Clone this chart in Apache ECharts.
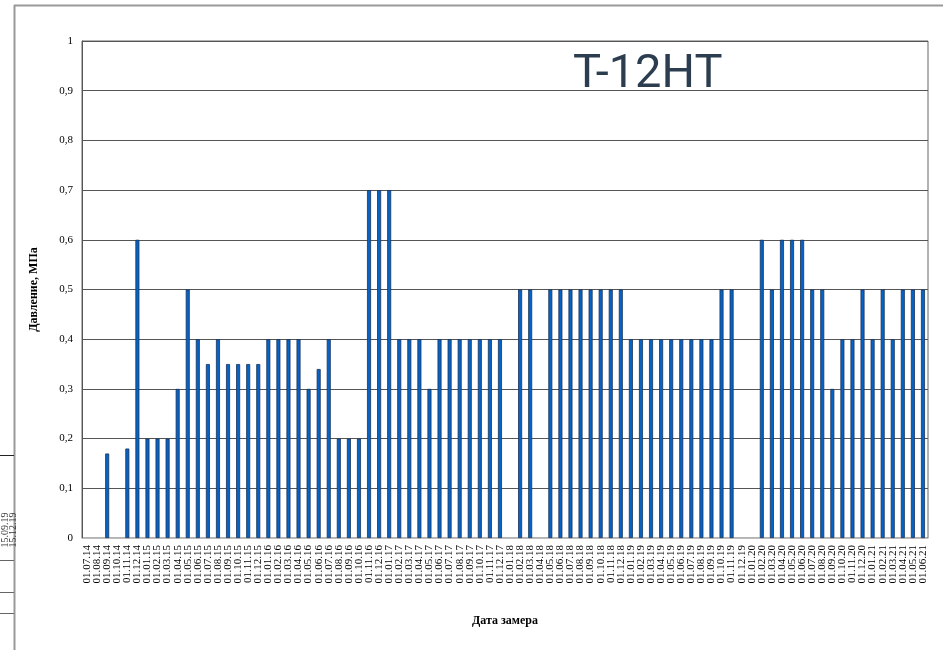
<!DOCTYPE html>
<html>
<head>
<meta charset="utf-8">
<title>T-12HT</title>
<script src="https://cdn.jsdelivr.net/npm/echarts@6/dist/echarts.min.js"></script>
<style>
  html, body { margin: 0; padding: 0; background: #fff; }
  #chart { width: 943px; height: 650px; }
</style>
</head>
<body>
<div id="chart"></div>
<script>
// даты замеров (ежемесячно, 07.2014 - 06.2021)
const dates = [
  '01.07.14','01.08.14','01.09.14','01.10.14','01.11.14','01.12.14',
  '01.01.15','01.02.15','01.03.15','01.04.15','01.05.15','01.06.15','01.07.15','01.08.15','01.09.15','01.10.15','01.11.15','01.12.15',
  '01.01.16','01.02.16','01.03.16','01.04.16','01.05.16','01.06.16','01.07.16','01.08.16','01.09.16','01.10.16','01.11.16','01.12.16',
  '01.01.17','01.02.17','01.03.17','01.04.17','01.05.17','01.06.17','01.07.17','01.08.17','01.09.17','01.10.17','01.11.17','01.12.17',
  '01.01.18','01.02.18','01.03.18','01.04.18','01.05.18','01.06.18','01.07.18','01.08.18','01.09.18','01.10.18','01.11.18','01.12.18',
  '01.01.19','01.02.19','01.03.19','01.04.19','01.05.19','01.06.19','01.07.19','01.08.19','01.09.19','01.10.19','01.11.19','01.12.19',
  '01.01.20','01.02.20','01.03.20','01.04.20','01.05.20','01.06.20','01.07.20','01.08.20','01.09.20','01.10.20','01.11.20','01.12.20',
  '01.01.21','01.02.21','01.03.21','01.04.21','01.05.21','01.06.21'
]

// давление, МПа (null - замера не было)
const pressure = [
  null, null, 0.17, null, 0.18, 0.6,
  0.2, 0.2, 0.2, 0.3, 0.5, 0.4, 0.35, 0.4, 0.35, 0.35, 0.35, 0.35,
  0.4, 0.4, 0.4, 0.4, 0.3, 0.34, 0.4, 0.2, 0.2, 0.2, 0.7, 0.7,
  0.7, 0.4, 0.4, 0.4, 0.3, 0.4, 0.4, 0.4, 0.4, 0.4, 0.4, 0.4,
  null, 0.5, 0.5, null, 0.5, 0.5, 0.5, 0.5, 0.5, 0.5, 0.5, 0.5,
  0.4, 0.4, 0.4, 0.4, 0.4, 0.4, 0.4, 0.4, 0.4, 0.5, 0.5, null,
  null, 0.6, 0.5, 0.6, 0.6, 0.6, 0.5, 0.5, 0.3, 0.4, 0.4, 0.5,
  0.4, 0.5, 0.4, 0.5, 0.5, 0.5
]

const serif = '"Liberation Serif", "DejaVu Serif", serif'

const chart = echarts.init(document.getElementById('chart'))

chart.setOption({
  animation: false,
  title: {
    text: 'T-12HT',
    left: 568,
    top: 47,
    textStyle: {
      fontFamily: 'Roboto, "Noto Sans", sans-serif',
      fontSize: 47,
      fontWeight: 'normal',
      color: '#2c3d4f'
    }
  },
  grid: {
    left: 82,
    top: 41,
    right: 15,
    bottom: 112,
    show: true,
    borderColor: '#666',
    borderWidth: 1
  },
  xAxis: {
    type: 'category',
    data: dates,
    name: 'Дата замера',
    nameLocation: 'middle',
    nameGap: 77,
    nameTextStyle: { fontFamily: serif, fontSize: 12, fontWeight: 'bold', color: '#000' },
    axisLine: { lineStyle: { color: '#bbb' } },
    axisTick: { show: false },
    axisLabel: {
      interval: 0,
      rotate: 90,
      fontFamily: serif,
      fontSize: 11,
      color: '#000',
      margin: 7
    }
  },
  yAxis: {
    type: 'value',
    min: 0,
    max: 1,
    interval: 0.1,
    name: 'Давление, МПа',
    nameLocation: 'middle',
    nameGap: 42,
    nameTextStyle: { fontFamily: serif, fontSize: 12, fontWeight: 'bold', color: '#000' },
    axisLine: { show: true, lineStyle: { color: '#555' } },
    axisTick: { show: false },
    axisLabel: {
      fontFamily: serif,
      fontSize: 11,
      color: '#000',
      margin: 9,
      formatter: v => (Math.round(v * 10) / 10).toString().replace('.', ',')
    },
    splitLine: { lineStyle: { color: '#555', width: 1 } }
  },
  series: [{
    type: 'bar',
    data: pressure,
    barWidth: 4,
    itemStyle: {
      color: '#0563c8',
      borderColor: '#1b3358',
      borderWidth: 0.8
    }
  }],
  graphic: [
    // рамка области диаграммы
    { type: 'line', shape: { x1: 14, y1: 5.5, x2: 943, y2: 5.5 }, style: { stroke: '#999', lineWidth: 2 } },
    { type: 'line', shape: { x1: 14.5, y1: 5, x2: 14.5, y2: 650 }, style: { stroke: '#999', lineWidth: 2 } },
    // обрезки соседней таблицы слева
    { type: 'line', shape: { x1: 0, y1: 455.5, x2: 14, y2: 455.5 }, style: { stroke: '#222', lineWidth: 1 } },
    { type: 'line', shape: { x1: 0, y1: 560.5, x2: 14, y2: 560.5 }, style: { stroke: '#666', lineWidth: 1 } },
    { type: 'line', shape: { x1: 0, y1: 592.5, x2: 14, y2: 592.5 }, style: { stroke: '#666', lineWidth: 1 } },
    { type: 'line', shape: { x1: 0, y1: 613.5, x2: 14, y2: 613.5 }, style: { stroke: '#666', lineWidth: 1 } },
    {
      type: 'text', x: 0, y: 530, rotation: Math.PI / 2,
      style: { text: '15.09.19', fontFamily: serif, fontSize: 10, fill: '#333', align: 'center', verticalAlign: 'top' }
    },
    {
      type: 'text', x: 8, y: 530, rotation: Math.PI / 2,
      style: { text: '15.12.19', fontFamily: serif, fontSize: 10, fill: '#333', align: 'center', verticalAlign: 'top' }
    }
  ]
})

window.addEventListener('resize', function () {
  chart.resize()
})
</script>
</body>
</html>
